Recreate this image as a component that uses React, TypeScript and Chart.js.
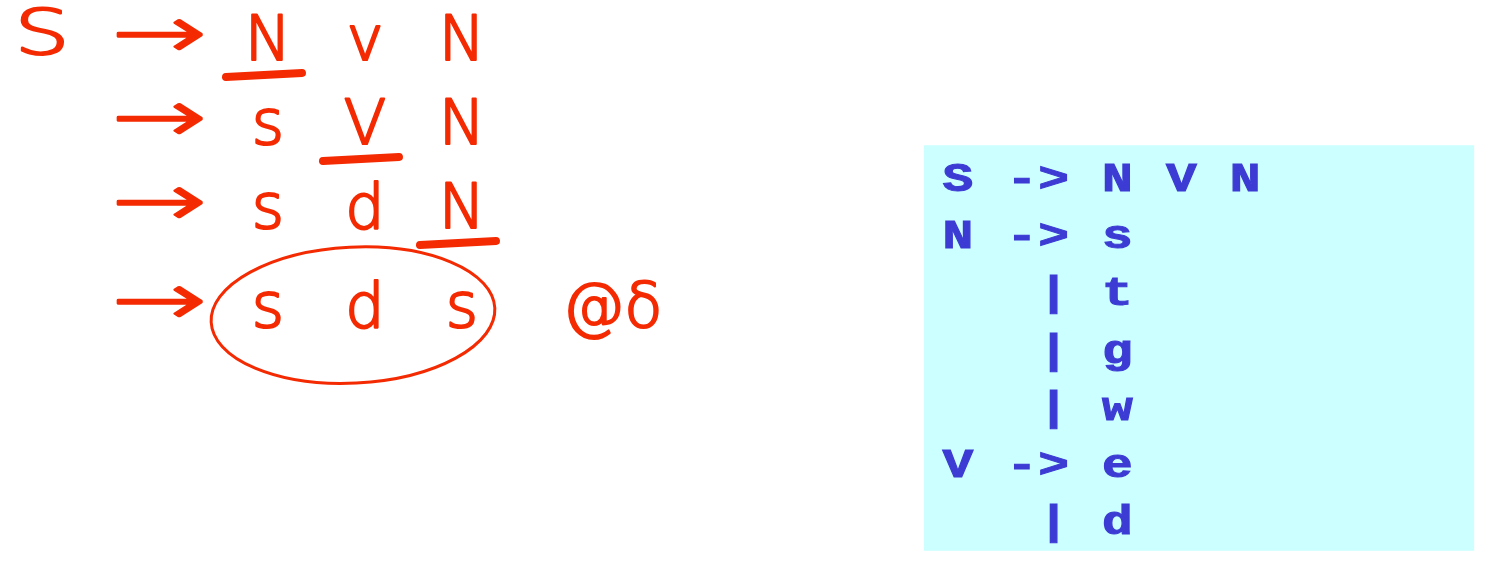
import { useEffect, useRef } from "react"
import { Chart, registerables } from "chart.js"

Chart.register(...registerables)

// hand-written derivation on the left
const derivationLhs = ["S", "", "", ""]
const derivationSteps = [
  ["N", "v", "N"],
  ["s", "V", "N"],
  ["s", "d", "N"],
  ["s", "d", "s"],
]
// symbol that gets rewritten in the next step (-1 = none)
const expandedSymbol = [0, 1, 2, -1]
const finalNote = "@δ"

// typed grammar in the box on the right
const ruleHeads = ["S", "N", "", "", "", "V", ""]
const ruleOps = ["->", "->", "|", "|", "|", "->", "|"]
const ruleBodies = [["N", "V", "N"], ["s"], ["t"], ["g"], ["w"], ["e"], ["d"]]

const W = 1491
const H = 564
const RED = "#f42a02"
const BLUE = "#3c3cd4"
const BOX_FILL = "#ccffff"

type TextPoint = { x: number; y: number; text: string; row: number; col: number }

// maps a grid (origin pixel + step in pixels) onto a full-page linear axis
function gridRange(originPx: number, stepPx: number, sizePx: number) {
  return { min: -originPx / stepPx, max: (sizePx - originPx) / stepPx }
}

const handX = gridRange(268, 97, W)
const handY = gridRange(60, 84, H)
const gramX = gridRange(958, 31.9, W)
const gramY = gridRange(191, 57.2, H)

const LHS_COL = -2.33
const ARROW_COL = -1.12
const NOTE_COL = 3.55
const FINAL_ROW_GAP = 0.18
const BOX = { left: -1.07, right: 16.18, top: -0.8, bottom: 6.29 }

function handRow(i: number) {
  return i === derivationSteps.length - 1 ? i + FINAL_ROW_GAP : i
}

function drawToken(ctx: CanvasRenderingContext2D, kind: string, text: string, x: number, y: number) {
  ctx.save()
  ctx.textAlign = "center"
  ctx.textBaseline = "alphabetic"
  if (kind === "mono") {
    ctx.font = 'bold 41px "Liberation Mono"'
    ctx.fillStyle = BLUE
    ctx.strokeStyle = BLUE
    ctx.lineWidth = 1
    ctx.translate(x, y)
    ctx.scale(1.25, 1)
    ctx.fillText(text, 0, 0)
    ctx.strokeText(text, 0, 0)
  } else {
    ctx.font = '200 62px "DejaVu Sans"'
    ctx.fillStyle = RED
    ctx.strokeStyle = RED
    ctx.lineWidth = 2.2
    ctx.lineJoin = "round"
    if (kind === "arrow") {
      const w = ctx.measureText(text).width
      ctx.translate(x, y - 22)
      ctx.scale(94 / w, 1.15)
      ctx.textBaseline = "middle"
    } else if (kind === "big") {
      ctx.translate(x, y - 6)
      ctx.scale(1.4, 1)
    } else {
      ctx.translate(x, y)
    }
    ctx.fillText(text, 0, 0)
    ctx.strokeText(text, 0, 0)
  }
  ctx.restore()
}

const slidePlugin = {
  id: "slideText",
  beforeDatasetsDraw(chart: Chart) {
    const { ctx, scales } = chart
    const l = scales.gx.getPixelForValue(BOX.left)
    const r = scales.gx.getPixelForValue(BOX.right)
    const t = scales.gy.getPixelForValue(BOX.top)
    const b = scales.gy.getPixelForValue(BOX.bottom)
    ctx.save()
    ctx.fillStyle = BOX_FILL
    ctx.fillRect(l, t, r - l, b - t)
    ctx.restore()
  },
  afterDatasetsDraw(chart: Chart) {
    const { ctx } = chart
    const symbolEls: Record<string, { x: number; y: number }> = {}
    chart.data.datasets.forEach((ds: any, i) => {
      const meta = chart.getDatasetMeta(i)
      meta.data.forEach((el: any, j) => {
        const p = ds.data[j] as TextPoint
        drawToken(ctx, ds.textKind, p.text, el.x, el.y)
        if (ds.label === "symbols") symbolEls[p.row + ":" + p.col] = { x: el.x, y: el.y }
      })
    })

    ctx.save()
    ctx.strokeStyle = RED
    ctx.lineCap = "round"
    // underline the symbol being rewritten
    expandedSymbol.forEach((col, row) => {
      const el = symbolEls[row + ":" + col]
      if (!el) return
      ctx.lineWidth = 8
      ctx.beginPath()
      ctx.moveTo(el.x - 42, el.y + 17)
      ctx.lineTo(el.x + 34, el.y + 13)
      ctx.stroke()
    })
    // circle the final sentence
    const last = derivationSteps.length - 1
    const first = symbolEls[last + ":0"]
    const end = symbolEls[last + ":" + (derivationSteps[last].length - 1)]
    if (first && end) {
      ctx.lineWidth = 3
      ctx.beginPath()
      ctx.ellipse((first.x + end.x) / 2 - 12, first.y - 12, (end.x - first.x) / 2 + 45, 68, -0.05, 0, Math.PI * 2)
      ctx.stroke()
    }
    ctx.restore()
  },
}

function buildDatasets() {
  const lhs: TextPoint[] = []
  const arrows: TextPoint[] = []
  const symbols: TextPoint[] = []
  derivationSteps.forEach((step, i) => {
    const y = handRow(i)
    if (derivationLhs[i]) lhs.push({ x: LHS_COL, y, text: derivationLhs[i], row: i, col: -2 })
    arrows.push({ x: ARROW_COL, y, text: "→", row: i, col: -1 })
    step.forEach((s, j) => symbols.push({ x: j, y, text: s, row: i, col: j }))
  })
  const note: TextPoint[] = [
    { x: NOTE_COL, y: handRow(derivationSteps.length - 1), text: finalNote, row: 3, col: 3 },
  ]

  const heads: TextPoint[] = []
  const ops: TextPoint[] = []
  const bodies: TextPoint[] = []
  ruleBodies.forEach((body, r) => {
    if (ruleHeads[r]) heads.push({ x: 0, y: r, text: ruleHeads[r], row: r, col: 0 })
    const op = ruleOps[r]
    op.split("").forEach((c, k) => ops.push({ x: 3 - (op.length - 1 - k), y: r, text: c, row: r, col: k }))
    body.forEach((s, j) => bodies.push({ x: 5 + 2 * j, y: r, text: s, row: r, col: j }))
  })

  const hand = { xAxisID: "x", yAxisID: "y", pointRadius: 0, pointHoverRadius: 0 }
  const gram = { xAxisID: "gx", yAxisID: "gy", pointRadius: 0, pointHoverRadius: 0 }
  return [
    { label: "lhs", data: lhs, textKind: "big", ...hand },
    { label: "arrows", data: arrows, textKind: "arrow", ...hand },
    { label: "symbols", data: symbols, textKind: "hand", ...hand },
    { label: "note", data: note, textKind: "hand", ...hand },
    { label: "heads", data: heads, textKind: "mono", ...gram },
    { label: "ops", data: ops, textKind: "mono", ...gram },
    { label: "bodies", data: bodies, textKind: "mono", ...gram },
  ]
}

export default function App() {
  const canvasRef = useRef<HTMLCanvasElement | null>(null)
  const chartRef = useRef<Chart | null>(null)

  useEffect(() => {
    if (!canvasRef.current) return
    const ctx = canvasRef.current.getContext("2d")
    if (!ctx) return
    if (chartRef.current) chartRef.current.destroy()

    chartRef.current = new Chart(ctx, {
      type: "scatter",
      data: { datasets: buildDatasets() as any },
      options: {
        animation: false,
        responsive: true,
        maintainAspectRatio: false,
        events: [],
        layout: { padding: 0 },
        plugins: { legend: { display: false }, tooltip: { enabled: false } },
        scales: {
          x: { type: "linear", display: false, min: handX.min, max: handX.max },
          y: { type: "linear", display: false, reverse: true, min: handY.min, max: handY.max },
          gx: { type: "linear", axis: "x", display: false, min: gramX.min, max: gramX.max },
          gy: { type: "linear", axis: "y", display: false, reverse: true, min: gramY.min, max: gramY.max },
        },
      },
      plugins: [slidePlugin],
    })

    return () => {
      if (chartRef.current) {
        chartRef.current.destroy()
        chartRef.current = null
      }
    }
  }, [])

  return (
    <div style={{ position: "absolute", left: 0, top: 0, width: W, height: H, background: "#fff" }}>
      <canvas ref={canvasRef} />
    </div>
  )
}
